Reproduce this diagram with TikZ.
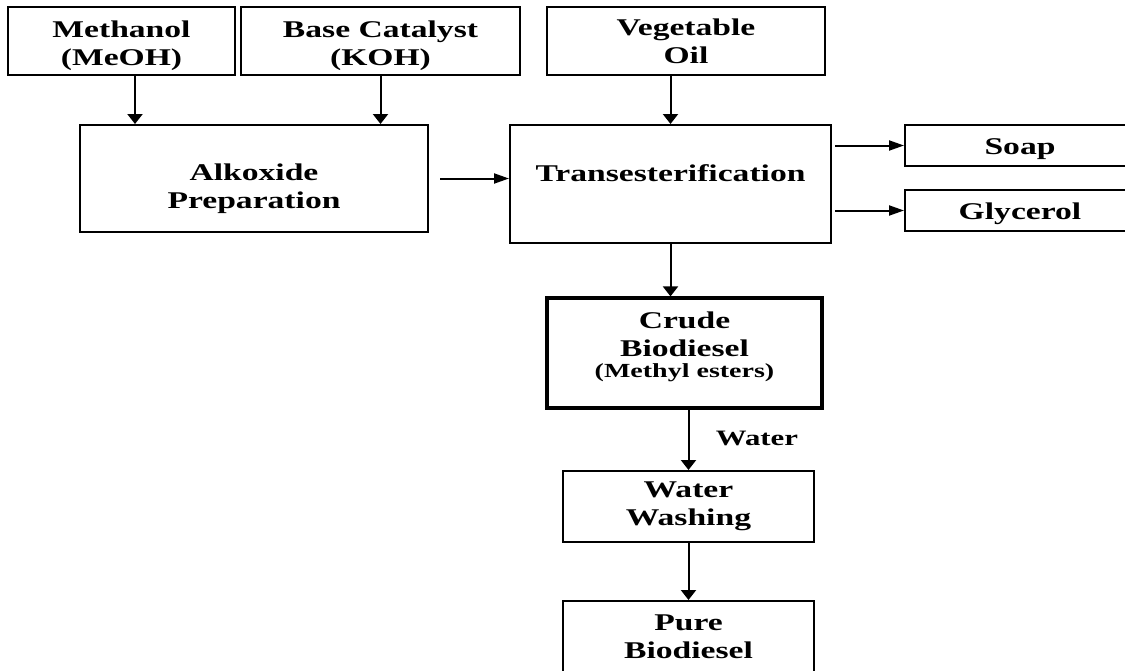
\documentclass[tikz,border=0pt]{standalone}
\usepackage{fontspec}
\setmainfont{Liberation Serif}[FakeStretch=1.4]
\usetikzlibrary{arrows.meta}

\begin{document}
\begin{tikzpicture}[x=0.5pt,y=-0.5pt,
    box/.style={draw,line width=1pt,inner sep=0pt,align=center,
      font=\fontsize{12}{14}\selectfont\bfseries},
    varrow/.style={line width=1pt,-{Triangle[width=7.5pt,length=5pt]}},
    harrow/.style={line width=1pt,-{Triangle[width=5pt,length=7.5pt]}}]
  \useasboundingbox (0,0) rectangle (1125,670);
  \clip (0,0) rectangle (1125,670);

  % feedstocks
  \node[box,minimum width=113.5pt,minimum height=34pt] (meth) at (121.5,41) {\rule{0pt}{12.6pt}Methanol\\(MeOH)};
  \node[box,minimum width=139.5pt,minimum height=34pt] (base) at (380.5,41) {\rule{0pt}{12.6pt}Base Catalyst\\(KOH)};
  \node[box,minimum width=139pt,minimum height=34pt] (veg) at (686,41) {Vegetable\\Oil};

  % reaction
  \node[box,minimum width=174pt,minimum height=53.5pt] (alk) at (254,178.5) {\rule{0pt}{18.6pt}Alkoxide\\Preparation};
  \node[box,minimum width=160.5pt,minimum height=59pt] (trans) at (670.5,184) {\raisebox{1.5pt}[0pt][0pt]{Transesterification}};
  \node[box,text height=12pt,minimum width=115pt,minimum height=20.5pt] (soap) at (1020,145.5) {Soap};
  \node[box,text height=12pt,minimum width=115pt,minimum height=20.5pt] (gly) at (1020,210.5) {Glycerol};

  % products
  \node[box,line width=1.6pt,minimum width=137.5pt,minimum height=55pt] (crude) at (684.5,353)
    {Crude\\Biodiesel\\[-3.5pt]{\fontsize{10}{12}\selectfont (Methyl esters)}\rule[-8.7pt]{0pt}{0pt}};
  \node[box,minimum width=125.5pt,minimum height=35.5pt] (wash) at (688.5,506.5) {Water\\Washing};
  \node[box,minimum width=125.5pt,minimum height=35.5pt] (pure) at (688.5,636.5) {Pure\\Biodiesel};
  \node[font=\fontsize{11}{13}\selectfont\bfseries] (water) at (757,438) {Water};

  \draw[varrow] ([xshift=6.75pt]meth.south) -- ([xshift=6.75pt]meth.south |- alk.north);
  \draw[varrow] (base.south) -- (base.south |- alk.north);
  \draw[varrow] (veg.south -| trans.north) -- (trans.north);
  \draw[harrow] ([xshift=5.5pt]alk.east) -- (alk.east -| trans.west);
  \draw[harrow] ([xshift=1.5pt]trans.east |- soap.west) -- (soap.west);
  \draw[harrow] ([xshift=1.5pt]trans.east |- gly.west) -- (gly.west);
  \draw[varrow] (trans.south) -- (trans.south |- crude.north);
  \draw[varrow] (wash.north |- crude.south) -- (wash.north);
  \draw[varrow] (wash.south) -- (pure.north);
\end{tikzpicture}
\end{document}
